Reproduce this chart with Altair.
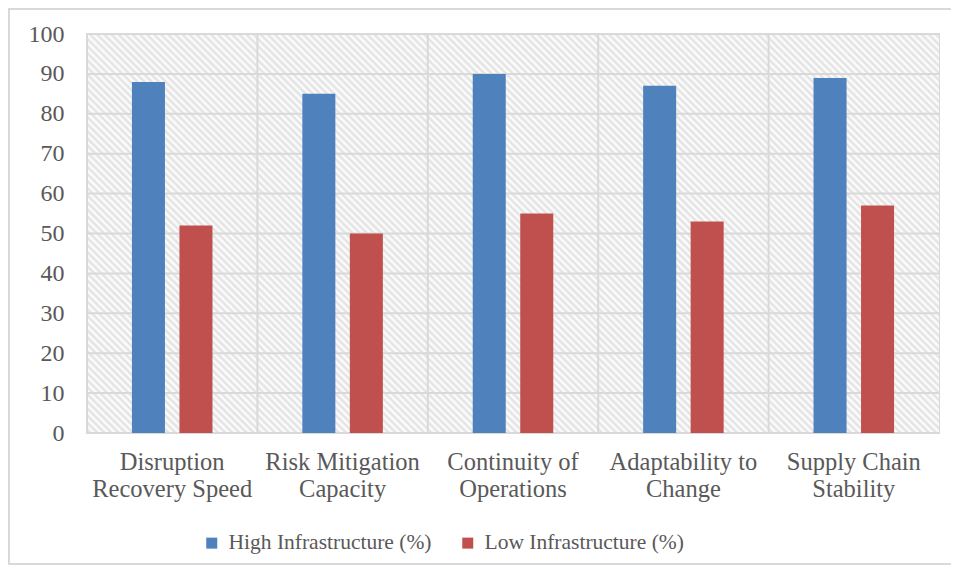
import math
import altair as alt
import pandas as pd

categories = [
    "Disruption Recovery Speed",
    "Risk Mitigation Capacity",
    "Continuity of Operations",
    "Adaptability to Change",
    "Supply Chain Stability",
]
label_lines = [
    ["Disruption", "Recovery Speed"],
    ["Risk Mitigation", "Capacity"],
    ["Continuity of", "Operations"],
    ["Adaptability to", "Change"],
    ["Supply Chain", "Stability"],
]
high_infra = [88, 85, 90, 87, 89]
low_infra = [52, 50, 55, 53, 57]
series = ["High Infrastructure (%)", "Low Infrastructure (%)"]
colors = ["#4f81bd", "#c0504d"]
y_ticks = [0, 10, 20, 30, 40, 50, 60, 70, 80, 90, 100]

rows = []
for c, h, l in zip(categories, high_infra, low_infra):
    rows.append({"category": c, "series": series[0], "value": h})
    rows.append({"category": c, "series": series[1], "value": l})
df = pd.DataFrame(rows)

W, H = 852, 399
TXT = "#595959"
GRID = "#d9d9d9"
FONT = "Liberation Serif"

expr = "datum.value"
for c, lines in zip(categories, label_lines):
    arr = "[" + ",".join("'" + s + "'" for s in lines) + "]"
    expr = f"datum.value == '{c}' ? {arr} : ({expr})"

# diagonal hatch via a repeating linear gradient (lines x - y = const)
r = H / W
t_end = (1 + r) / (1 + r * r)
diag = (W + H) / math.sqrt(2)
n = int(diag / 5.0)
stops = []
for k in range(n):
    stops.append({"offset": k / n, "color": "#ffffff"})
    stops.append({"offset": (k + 0.5) / n, "color": "#e0e0e0"})
stops.append({"offset": 1.0, "color": "#ffffff"})
hatch = alt.LinearGradient(
    gradient="linear", x1=0, y1=1, x2=t_end, y2=1 - r * t_end, stops=stops
)

x_scale = alt.Scale(domain=categories, paddingInner=0, paddingOuter=0)
y_scale = alt.Scale(domain=[0, 100], nice=False)

x_axis = alt.Axis(
    title=None,
    labelAngle=0,
    labelAlign="center",
    labelExpr=expr,
    labelFont=FONT,
    labelFontSize=24.5,
    labelColor=TXT,
    labelPadding=17,
    labelLineHeight=27,
    labelBaseline="top",
    labelLimit=0,
    labelOverlap=False,
    ticks=False,
    domain=False,
    grid=False,
)
y_axis = alt.Axis(
    title=None,
    values=y_ticks,
    labelFont=FONT,
    labelFontSize=24,
    labelColor=TXT,
    labelPadding=23,
    labelOverlap=False,
    ticks=False,
    domain=False,
    grid=False,
)

one = pd.DataFrame({"a": [0]})

bg = alt.Chart(one).mark_rect(fill=hatch, strokeWidth=0).encode(
    x=alt.value(0), x2=alt.value(W), y=alt.value(0), y2=alt.value(H)
)

hgrid = alt.Chart(pd.DataFrame({"v": y_ticks})).mark_rule(
    color=GRID, strokeWidth=2
).encode(y=alt.Y("v:Q", scale=y_scale, axis=y_axis))

vgrid = alt.Chart(pd.DataFrame({"category": categories})).mark_rule(
    color=GRID, strokeWidth=2
).encode(x=alt.X("category:N", scale=x_scale, axis=x_axis, bandPosition=0))

bars = alt.Chart(df).mark_bar().encode(
    x=alt.X("category:N", sort=categories, scale=x_scale, axis=x_axis),
    xOffset=alt.XOffset(
        "series:N",
        sort=series,
        scale=alt.Scale(paddingInner=0.305, paddingOuter=0.946),
    ),
    y=alt.Y("value:Q", scale=y_scale, axis=y_axis),
    color=alt.Color(
        "series:N",
        sort=series,
        scale=alt.Scale(domain=series, range=colors),
        legend=alt.Legend(
            title=None,
            orient="none",
            direction="horizontal",
            legendX=114,
            legendY=498,
            symbolType="square",
            symbolSize=121,
            symbolStrokeWidth=0,
            labelFont=FONT,
            labelFontSize=21.5,
            labelColor=TXT,
            labelOffset=6,
            labelLimit=0,
            columnPadding=25,
            padding=0,
        ),
    ),
)

border = alt.Chart(one).mark_rect(
    fill=None, stroke=GRID, strokeWidth=2
).encode(
    x=alt.value(-78),
    x2=alt.value(W + 40),
    y=alt.value(-25),
    y2=alt.value(H + 131),
)

chart = alt.layer(bg, hgrid, vgrid, bars, border).properties(
    width=W,
    height=H,
    padding={"left": 79, "top": 26, "right": 12, "bottom": 132},
    autosize=alt.AutoSizeParams(type="none"),
).configure_view(
    stroke=GRID,
    strokeWidth=2,
)

chart.save("out.html", embed_options={"renderer": "svg", "actions": False})
